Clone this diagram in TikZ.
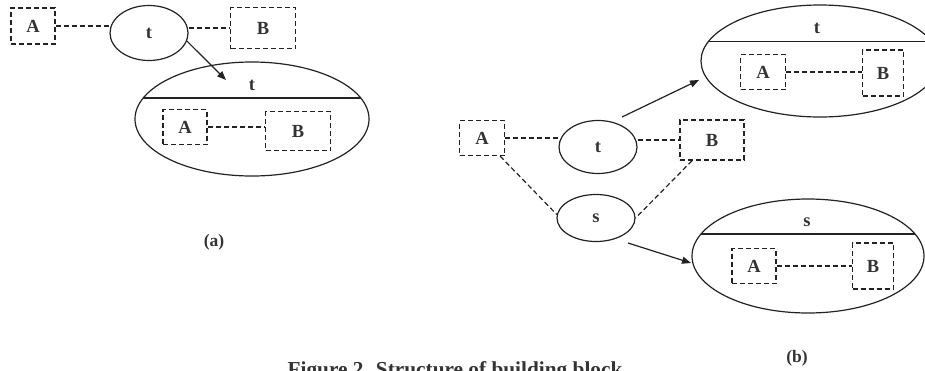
\documentclass[tikz,border=0pt]{standalone}
\usepackage{fontspec}
\setmainfont{Liberation Serif}
\usetikzlibrary{shapes.geometric,arrows.meta,calc}
\definecolor{ink}{HTML}{222222}
\definecolor{txt}{HTML}{333333}
\tikzset{
  lbl/.style={font=\fontsize{18.5}{20}\selectfont\bfseries, text=txt},
  dbox/.style={draw=ink, line width=1.2pt, dash pattern=on 5pt off 3pt, lbl, inner sep=0pt},
  ell/.style={draw=ink, line width=1.2pt, ellipse, lbl, inner sep=0pt},
  big/.style={draw=ink, line width=1.2pt, ellipse, inner sep=0pt},
  dline/.style={draw=ink, line width=1.2pt, dash pattern=on 5pt off 3pt},
  arr/.style={draw=ink, line width=1.2pt, -{Triangle[length=9pt,width=7pt]}},
  chord/.style={draw=ink, line width=1.4pt},
}
\begin{document}
\begin{tikzpicture}[x=1pt,y=-1pt]
\useasboundingbox (0,0) rectangle (925,370);
% ---------- (a) ----------
\node[dbox, minimum width=44pt, minimum height=36pt] (aA) at (33,26) {A};
\node[ell, minimum width=78pt, minimum height=55pt] (at) at (149,33) {t};
\node[dbox, minimum width=65pt, minimum height=41pt] (aB) at (263,28) {B};
\draw[dline] (aA.east) -- (aA.east -| at.west);
\draw[dline] (aB.west -| at.east) -- (aB.west);
\node[big, minimum width=234pt, minimum height=114pt] (aE) at (252,119) {};
\begin{scope}
  \clip (252,119) ellipse (117pt and 57pt);
  \draw[chord] (100,98) -- (400,98);
\end{scope}
\node[lbl] (aEt) at (252,85) {t};
\coordinate (aArrEnd) at (226,80);
\draw[arr] (at.-12) -- (aArrEnd);
\node[dbox, minimum width=44pt, minimum height=35pt] (aiA) at (185,127) {A};
\node[dbox, minimum width=65pt, minimum height=39pt] (aiB) at (298,131) {B};
\draw[dline] (aiA.east) -- (aiA.east -| aiB.west);
\node[lbl, font=\fontsize{17.5}{20}\selectfont\bfseries] (capa) at (214,242) {(a)};
% ---------- (b) ----------
\node[dbox, minimum width=45pt, minimum height=35pt] (bA) at (482,138) {A};
\node[ell, minimum width=78pt, minimum height=53pt] (bt) at (598,147) {t};
\node[dbox, minimum width=64pt, minimum height=40pt] (bB) at (712,140) {B};
\node[ell, minimum width=78pt, minimum height=47pt] (bs) at (596,218) {s};
\draw[dline] (bA.east) -- (bA.east -| bt.west);
\draw[dline] (bB.west -| bt.east) -- (bB.west);
\draw[dline] (bA.-45) -- (bs.175);
\draw[dline] (bB.-134) -- (bs.east);
% upper big ellipse
\node[big, minimum width=238pt, minimum height=112pt] (bU) at (820,61) {};
\begin{scope}
  \clip (820,61) ellipse (119pt and 56pt);
  \draw[chord] (680,41.5) -- (960,41.5);
\end{scope}
\node[lbl] (bUt) at (817,28) {t};
\node[dbox, minimum width=45pt, minimum height=35pt] (buA) at (763,72) {A};
\node[dbox, minimum width=41pt, minimum height=46pt] (buB) at (883,73) {B};
\draw[dline] (buA.east) -- (buA.east -| buB.west);
\coordinate (bt1) at (622,117);
\coordinate (bt2) at (699,80);
\draw[arr] (bt1) -- (bt2);
% lower big ellipse
\node[big, minimum width=232pt, minimum height=114pt] (bL) at (808,256) {};
\begin{scope}
  \clip (808,256) ellipse (116pt and 57pt);
  \draw[chord] (680,234) -- (940,234);
\end{scope}
\node[lbl] (bLs) at (807,222) {s};
\node[dbox, minimum width=44pt, minimum height=35pt] (blA) at (754,266) {A};
\node[dbox, minimum width=41pt, minimum height=46pt] (blB) at (873,266) {B};
\draw[dline] (blA.east) -- (blA.east -| blB.west);
\coordinate (bs1) at (628,243);
\coordinate (bs2) at (691,263);
\draw[arr] (bs1) -- (bs2);
\node[lbl, font=\fontsize{17.5}{20}\selectfont\bfseries] (capb) at (797,358) {(b)};
% caption (cut by the page edge, as in the reference)
\node[lbl, font=\fontsize{21.3}{24}\selectfont\bfseries, anchor=base] (cap) at (455,376) {Figure 2. Structure of building block};
\end{tikzpicture}
\end{document}
